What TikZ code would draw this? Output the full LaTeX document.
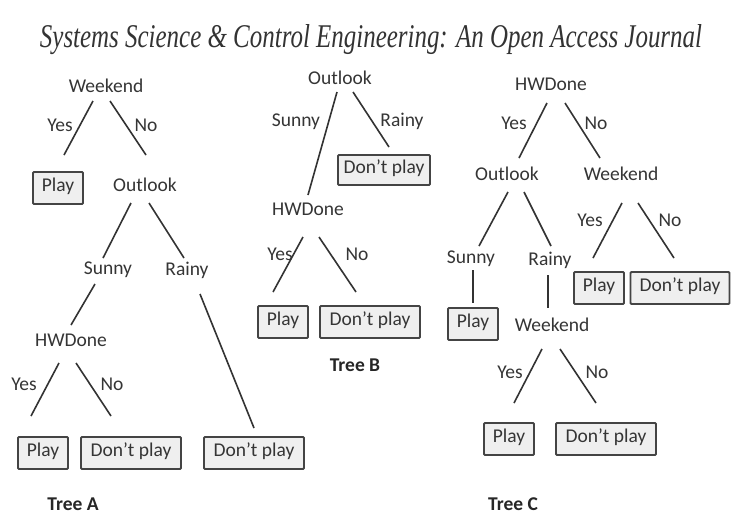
\documentclass[tikz,border=0pt]{standalone}
\usepackage{fontspec}
\usepackage{graphicx}
\setmainfont{Carlito}
\newfontfamily\titlefont{Liberation Serif}
\definecolor{txt}{HTML}{353535}
\definecolor{linec}{HTML}{333333}
\definecolor{boxc}{HTML}{444444}
\definecolor{boxf}{HTML}{EFEFEF}
\begin{document}
\begin{tikzpicture}[x=1pt,y=-1pt,
  lbl/.style={inner sep=0pt, text height=0.75em, text depth=0pt,
    font=\fontsize{19.5}{23}\selectfont, text=txt},
  leaf/.style={lbl, draw=boxc, fill=boxf, line width=1.9pt,
    minimum height=32pt, minimum width=50pt, rounded corners=1pt},
  wideleaf/.style={leaf, minimum width=100pt},
  edge/.style={draw=linec, line width=1.6pt},
  treename/.style={lbl, font=\fontsize{19.5}{23}\selectfont\bfseries, text=black!85}]
\fill[white] (0,0) rectangle (732,517);
\useasboundingbox (0,0) rectangle (732,517);

% Title
\node[anchor=base, inner sep=0pt, text=black!80] (title) at (371,47)
  {\resizebox{662pt}{23pt}{\titlefont\itshape Systems Science \& Control Engineering: An Open Access Journal}};

% ---------------- Tree A ----------------
\node[lbl] (wA) at (106,89) {Weekend};
\node[leaf] (playA1) at (58,188) {Play};
\node[lbl] (oA) at (145,188) {Outlook};
\node[lbl] (sA) at (108,271) {Sunny};
\node[lbl] (rA) at (187,272) {Rainy};
\node[lbl] (hA) at (71,343) {HWDone};
\node[leaf] (playA2) at (43,453) {Play};
\node[wideleaf] (dpA1) at (131,453) {Don’t play};
\node[wideleaf] (dpA2) at (254,453) {Don’t play};
\node[treename] (treeA) at (73,507) {Tree A};

\coordinate (a1s) at (93,101);  \coordinate (a1e) at (64,155);
\coordinate (a2s) at (110,101); \coordinate (a2e) at (146,155);
\coordinate (a3s) at (131,203); \coordinate (a3e) at (103,258);
\coordinate (a4s) at (149,203); \coordinate (a4e) at (184,258);
\coordinate (a5s) at (95,284);  \coordinate (a5e) at (71,325);
\coordinate (a6s) at (59,363);  \coordinate (a6e) at (31,416);
\coordinate (a7s) at (76,363);  \coordinate (a7e) at (111,416);
\coordinate (a8s) at (200,294); \coordinate (a8e) at (254,428);
\draw[edge] (a1s) -- (a1e);
\draw[edge] (a2s) -- (a2e);
\draw[edge] (a3s) -- (a3e);
\draw[edge] (a4s) -- (a4e);
\draw[edge] (a5s) -- (a5e);
\draw[edge] (a6s) -- (a6e);
\draw[edge] (a7s) -- (a7e);
\draw[edge] (a8s) -- (a8e);
\node[lbl] (ayes1) at (60,128) {Yes};
\node[lbl] (ano1) at (146,128) {No};
\node[lbl] (ayes2) at (24,387) {Yes};
\node[lbl] (ano2) at (112,387) {No};

% ---------------- Tree B ----------------
\node[lbl] (oB) at (340,81) {Outlook};
\node[leaf, minimum width=92pt, minimum height=30pt] (dpB1) at (384,170) {Don’t play};
\node[lbl] (hB) at (308,212) {HWDone};
\node[leaf] (playB) at (283,322) {Play};
\node[wideleaf] (dpB2) at (370,322) {Don’t play};
\node[treename] (treeB) at (355,368) {Tree B};

\coordinate (b1s) at (337,92);  \coordinate (b1e) at (308,195);
\coordinate (b2s) at (353,92);  \coordinate (b2e) at (389,147);
\coordinate (b3s) at (303,237); \coordinate (b3e) at (273,292);
\coordinate (b4s) at (319,237); \coordinate (b4e) at (356,292);
\draw[edge] (b1s) -- (b1e);
\draw[edge] (b2s) -- (b2e);
\draw[edge] (b3s) -- (b3e);
\draw[edge] (b4s) -- (b4e);
\node[lbl] (bsun) at (296,123) {Sunny};
\node[lbl] (brain) at (402,123) {Rainy};
\node[lbl] (byes) at (280,257) {Yes};
\node[lbl] (bno) at (357,257) {No};

% ---------------- Tree C ----------------
\node[lbl] (hC) at (551,87) {HWDone};
\node[lbl] (oC) at (507,177) {Outlook};
\node[lbl] (wC1) at (621,177) {Weekend};
\node[lbl] (sC) at (471,260) {Sunny};
\node[lbl] (rC) at (550,262) {Rainy};
\node[leaf] (playC1) at (599,288) {Play};
\node[leaf, minimum width=99pt] (dpC1) at (680,288) {Don’t play};
\node[leaf] (playC2) at (473,324) {Play};
\node[lbl] (wC2) at (552,328) {Weekend};
\node[leaf] (playC3) at (509,439) {Play};
\node[wideleaf] (dpC2) at (606,439) {Don’t play};
\node[treename] (treeC) at (513,507) {Tree C};

\coordinate (c1s) at (547,103); \coordinate (c1e) at (519,158);
\coordinate (c2s) at (565,103); \coordinate (c2e) at (600,158);
\coordinate (c3s) at (508,192); \coordinate (c3e) at (479,246);
\coordinate (c4s) at (524,192); \coordinate (c4e) at (551,246);
\coordinate (c5s) at (622,203); \coordinate (c5e) at (593,258);
\coordinate (c6s) at (638,203); \coordinate (c6e) at (674,258);
\coordinate (c7s) at (473,270); \coordinate (c7e) at (473,303);
\coordinate (c8s) at (548,275); \coordinate (c8e) at (548,308);
\coordinate (c9s) at (542,349); \coordinate (c9e) at (514,403);
\coordinate (c10s) at (560,349); \coordinate (c10e) at (596,403);
\draw[edge] (c1s) -- (c1e);
\draw[edge] (c2s) -- (c2e);
\draw[edge] (c3s) -- (c3e);
\draw[edge] (c4s) -- (c4e);
\draw[edge] (c5s) -- (c5e);
\draw[edge] (c6s) -- (c6e);
\draw[edge] (c7s) -- (c7e);
\draw[edge] (c8s) -- (c8e);
\draw[edge] (c9s) -- (c9e);
\draw[edge] (c10s) -- (c10e);
\node[lbl] (cyes1) at (514,126) {Yes};
\node[lbl] (cno1) at (596,126) {No};
\node[lbl] (cyes2) at (590,223) {Yes};
\node[lbl] (cno2) at (670,223) {No};
\node[lbl] (cyes3) at (510,375) {Yes};
\node[lbl] (cno3) at (597,375) {No};
\end{tikzpicture}
\end{document}
